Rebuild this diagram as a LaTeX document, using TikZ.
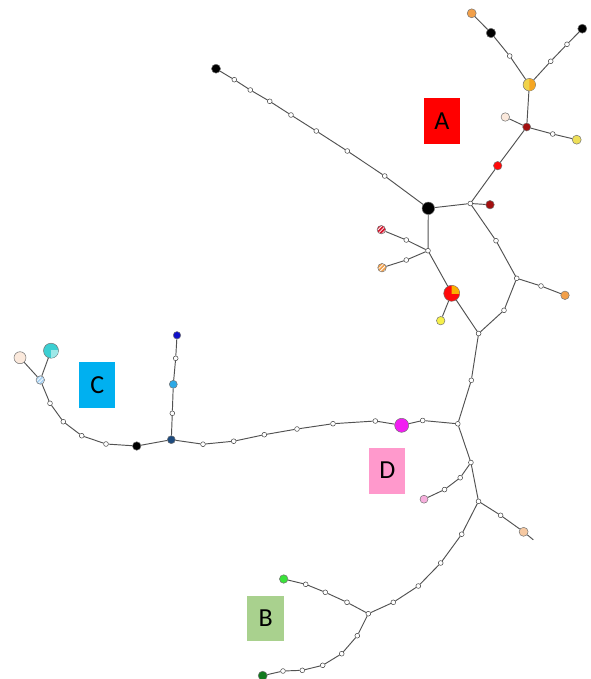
\documentclass[tikz,border=0pt]{standalone}
\usepackage{fontspec}
\setmainfont{Carlito}
\usetikzlibrary{patterns,patterns.meta,calc}
\definecolor{cOrange}{HTML}{F2A04A}
\definecolor{cYellowA}{HTML}{F0D24A}
\definecolor{cOrangeA}{HTML}{F5A623}
\definecolor{cDarkRed}{HTML}{A30F0F}
\definecolor{cBeige}{HTML}{FBE9DC}
\definecolor{cYellowB}{HTML}{EEDF58}
\definecolor{cRed}{HTML}{FF0A0A}
\definecolor{cRedS}{HTML}{D8142C}
\definecolor{cPieOr}{HTML}{F9B000}
\definecolor{cYellowC}{HTML}{F6F04A}
\definecolor{cMagenta}{HTML}{F21DF2}
\definecolor{cDarkBlue}{HTML}{1E4B7E}
\definecolor{cLightBlue}{HTML}{2DA9E6}
\definecolor{cBlue}{HTML}{1010C8}
\definecolor{cPaleBlue}{HTML}{A9D2F2}
\definecolor{cCyan}{HTML}{3CCFD2}
\definecolor{cCyanL}{HTML}{9EE8E8}
\definecolor{cPink}{HTML}{F6AEDC}
\definecolor{cPeach}{HTML}{F6C9A2}
\definecolor{cGreen}{HTML}{3AE23A}
\definecolor{cDarkGreen}{HTML}{127A1E}
\definecolor{cLabA}{HTML}{FF0000}
\definecolor{cLabC}{HTML}{00B0F0}
\definecolor{cLabD}{HTML}{FF99CC}
\definecolor{cLabB}{HTML}{A9D18E}
\begin{document}
\begin{tikzpicture}[x=1pt,y=-1pt,
 edge/.style={draw=black!68, line width=0.95pt},
 mv/.style={circle, draw=black!75, fill=white, line width=0.5pt, inner sep=0pt, minimum size=4.8pt},
 hap/.style={circle, draw=black!55, line width=0.5pt, inner sep=0pt, minimum size=#1},
 striped/.style={preaction={fill=#1}, pattern={Lines[angle=45,distance=2.8pt,line width=0.8pt]}, pattern color=white},
 lab/.style={minimum width=36pt, minimum height=46pt, inner sep=0pt, font=\fontsize{26}{26}\selectfont, text=black}
]
\useasboundingbox (0,0) rectangle (590,679);

% labels
\node[lab, fill=cLabA] (LA) at (442,121.5) {A};
\node[lab, fill=cLabC] (LC) at (97.2,384.7) {C};
\node[lab, fill=cLabD] (LD) at (387.3,470.5) {D};
\node[lab, fill=cLabB, minimum width=37pt, minimum height=45pt] (LB) at (265.7,618.3) {B};

% A cluster
\node[hap=9pt, fill=cOrange] (oT) at (471.7,13.3) {};
\node[hap=9.5pt, fill=black] (bk1) at (491,33) {};
\node[mv] (m1) at (509.7,56) {};
\node[hap=12.5pt, fill=cYellowA] (yo) at (529.3,84.7) {};
\node[mv] (m2) at (550.7,61.3) {};
\node[mv] (m3) at (567,44.3) {};
\node[hap=9pt, fill=black] (bk2) at (582.3,28.7) {};
\node[hap=8pt, fill=cDarkRed] (dr1) at (526.7,127) {};
\node[hap=8.5pt, fill=cBeige] (be1) at (505.3,117) {};
\node[mv] (m4) at (552.7,134) {};
\node[hap=9pt, fill=cYellowB] (ye1) at (576.7,139.7) {};
\node[hap=8.5pt, fill=cRed] (re1) at (497.7,165.7) {};
\node[mv] (j1) at (470.3,203.5) {};
\node[hap=8.5pt, fill=cDarkRed] (dr2) at (490,204.7) {};
\node[hap=12.5pt, fill=black] (bk0) at (428.3,208.3) {};
\node[mv] (m5) at (384.7,176) {};
\node[mv] (m6) at (347.3,151) {};
\node[mv] (m7) at (316.3,131) {};
\node[mv] (m8) at (291,115) {};
\node[mv] (m9) at (269.7,101.3) {};
\node[mv] (m10) at (250.3,90) {};
\node[mv] (m11) at (234.3,79.7) {};
\node[hap=9pt, fill=black] (bk3) at (216,68.7) {};
\node[mv] (j2) at (428,250.7) {};
\node[mv] (m12) at (406.3,240) {};
\node[hap=8.5pt, striped=cRedS] (sr) at (381.3,229.7) {};
\node[mv] (m13) at (406.3,260) {};
\node[hap=8.5pt, striped=cOrange] (so) at (382,267.7) {};
\node[hap=16pt, fill=cRed] (pie) at (451.7,293.3) {};
\node[hap=8.5pt, fill=cYellowC] (ye2) at (440.7,320.7) {};
\node[mv] (m14) at (496,240.7) {};
\node[mv] (j4) at (516.7,278.3) {};
\node[mv] (m15) at (541,286) {};
\node[hap=8.5pt, fill=cOrange] (or2) at (565,295.3) {};
\node[mv] (m16) at (504,310.3) {};
\node[mv] (j3) at (478.6,333.5) {};
\node[mv] (m17) at (471.3,380.3) {};
\node[mv] (j5) at (457.8,423.8) {};

% D / C trunk
\node[mv] (m18) at (422.7,420.5) {};
\node[hap=14pt, fill=cMagenta] (mg) at (401.7,425.3) {};
\node[mv] (m19) at (375.3,421) {};
\node[mv] (m20) at (333,423.7) {};
\node[mv] (m21) at (297,429) {};
\node[mv] (m22) at (264.3,434.7) {};
\node[mv] (m23) at (233.7,441.2) {};
\node[mv] (m24) at (203,444.2) {};
\node[hap=8pt, fill=cDarkBlue] (db) at (171.3,439.7) {};
\node[mv] (m25) at (172.3,413.3) {};
\node[hap=8pt, fill=cLightBlue] (lb) at (173.3,384.3) {};
\node[mv] (m26) at (175.7,358.3) {};
\node[hap=7.5pt, fill=cBlue] (bl) at (177,335.3) {};
\node[hap=8.5pt, fill=black] (bk4) at (136.7,446) {};
\node[mv] (m27) at (106,444) {};
\node[mv] (m28) at (81.7,435.7) {};
\node[mv] (m29) at (63.3,421.7) {};
\node[mv] (m30) at (50,403.3) {};
\node[hap=8.5pt, striped=cPaleBlue] (slb) at (40.3,380) {};
\node[hap=12pt, fill=cBeige] (be2) at (20,357.7) {};
\node[hap=15pt, fill=cCyan] (cy) at (51,350.7) {};

% lower part
\node[mv] (j6) at (470.9,462.5) {};
\node[mv] (m31) at (460.2,477.7) {};
\node[mv] (m32) at (444.5,489.6) {};
\node[hap=8pt, fill=cPink] (pk) at (424,499.2) {};
\node[mv] (j7) at (478.5,501.3) {};
\node[mv] (m33) at (500.6,515.3) {};
\node[hap=9pt, fill=cPeach] (pe) at (523.6,531.8) {};
\coordinate (pend) at (533.3,539.8);
\node[mv] (m34) at (461.7,534.2) {};
\node[mv] (m35) at (440.7,563) {};
\node[mv] (m36) at (418.3,586) {};
\node[mv] (m37) at (393.3,602.3) {};
\node[mv] (j8) at (368.3,613.7) {};
\node[mv] (m38) at (347,602.3) {};
\node[mv] (m39) at (325.3,592.3) {};
\node[mv] (m40) at (305.7,584.3) {};
\node[hap=8.5pt, fill=cGreen] (gr) at (283.7,579) {};
\node[mv] (m41) at (357.3,635.7) {};
\node[mv] (m42) at (341.7,653.7) {};
\node[mv] (m43) at (322.7,665.3) {};
\node[mv] (m44) at (302.3,670.3) {};
\node[mv] (m45) at (283,671) {};
\node[hap=9pt, fill=cDarkGreen] (dg) at (262.7,675.7) {};

% pie wedges
\begin{scope}
\clip (pie.center) rectangle ++(10,-10);
\fill[cPieOr] (pie.center) circle[radius=7.7];
\end{scope}
\begin{scope}
\clip ($(yo.center)+(0,-8)$) rectangle ++(8,16);
\fill[cOrangeA] (yo.center) circle[radius=6];
\end{scope}
\begin{scope}
\clip (cy.center) rectangle ++(9,9);
\fill[cCyanL] (cy.center) circle[radius=7.2];
\end{scope}

% edges
\draw[edge] (oT) -- (bk1) -- (m1) -- (yo);
\draw[edge] (yo) -- (m2) -- (m3) -- (bk2);
\draw[edge] (yo) -- (dr1);
\draw[edge] (dr1) -- (be1);
\draw[edge] (dr1) -- (m4) -- (ye1);
\draw[edge] (dr1) -- (re1) -- (j1);
\draw[edge] (j1) -- (dr2);
\draw[edge] (j1) -- (bk0);
\draw[edge] (bk0) -- (m5) -- (m6) -- (m7) -- (m8) -- (m9) -- (m10) -- (m11) -- (bk3);
\draw[edge] (bk0) -- (j2);
\draw[edge] (j2) -- (m12) -- (sr);
\draw[edge] (j2) -- (m13) -- (so);
\draw[edge] (j2) -- (pie);
\draw[edge] (pie) -- (ye2);
\draw[edge] (pie) -- (j3);
\draw[edge] (j1) -- (m14) -- (j4);
\draw[edge] (j4) -- (m15) -- (or2);
\draw[edge] (j4) -- (m16) -- (j3);
\draw[edge] (j3) -- (m17) -- (j5);
\draw[edge] (j5) -- (m18) -- (mg) -- (m19) -- (m20) -- (m21) -- (m22) -- (m23) -- (m24) -- (db);
\draw[edge] (db) -- (m25) -- (lb) -- (m26) -- (bl);
\draw[edge] (db) -- (bk4) -- (m27) -- (m28) -- (m29) -- (m30) -- (slb);
\draw[edge] (slb) -- (be2);
\draw[edge] (slb) -- (cy);
\draw[edge] (j5) -- (j6);
\draw[edge] (j6) -- (m31) -- (m32) -- (pk);
\draw[edge] (j6) -- (j7);
\draw[edge] (j7) -- (m33) -- (pe) -- (pend);
\draw[edge] (j7) -- (m34) -- (m35) -- (m36) -- (m37) -- (j8);
\draw[edge] (j8) -- (m38) -- (m39) -- (m40) -- (gr);
\draw[edge] (j8) -- (m41) -- (m42) -- (m43) -- (m44) -- (m45) -- (dg);
\end{tikzpicture}
\end{document}
